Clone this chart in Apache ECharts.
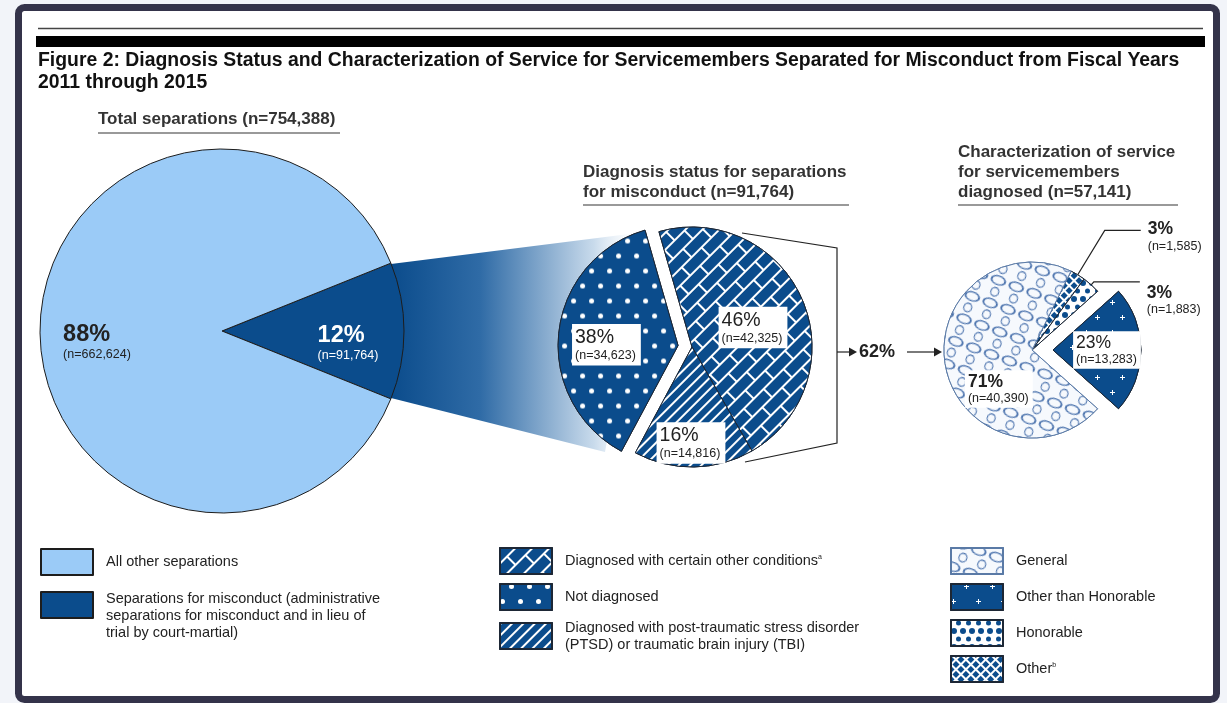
<!DOCTYPE html>
<html lang="en">
<head>
<meta charset="UTF-8">
<title>Figure 2</title>
<script src="https://cdn.jsdelivr.net/npm/echarts@6/dist/echarts.min.js"></script>
<style>
    html, body { margin: 0; padding: 0; background: #f2f4f9; }
</style>
</head>
<body>
<div id="box" style="width:1227px;height:703px;"></div>
<script>
    // data
    var totalNames = ['Separations for misconduct', 'All other separations'];
    var totalValues = [91764, 662624];
    var diagNames = ['Diagnosed with certain other conditions', 'Diagnosed with PTSD or TBI', 'Not diagnosed'];
    var diagValues = [42325, 14816, 34623];
    var serviceNames = ['Other', 'Honorable', 'Other than Honorable', 'General'];
    var serviceValues = [1585, 1883, 13283, 40390];

    var legendText = {
        'Separations for misconduct': 'Separations for misconduct (administrative\nseparations for misconduct and in lieu of\ntrial by court-martial)',
        'Diagnosed with certain other conditions': 'Diagnosed with certain other conditions{sup|a}',
        'Diagnosed with PTSD or TBI': 'Diagnosed with post-traumatic stress disorder\n(PTSD) or traumatic brain injury (TBI)',
        'Other': 'Other{sup|b}'
    };

    var blue = '#0b4c8c';
    var font = '"Liberation Sans", Arial, sans-serif';

    function sum(a) { return a.reduce(function (s, v) { return s + v; }, 0); }
    function fmt(v) { return v.toLocaleString('en-US'); }

    var totalAll = sum(totalValues), diagAll = sum(diagValues), serviceAll = sum(serviceValues);

    // patterns
    var decals = {
        'Not diagnosed': {symbol: 'circle', symbolSize: 1, color: '#fff', backgroundColor: blue,
            dashArrayX: [[5, 13], [0, 9, 5, 4]], dashArrayY: [5, 10]},
        'Diagnosed with certain other conditions': {symbol: 'rect', symbolSize: 1, color: blue, backgroundColor: '#fff',
            dashArrayX: [[26, 2], [12, 2, 14, 0]], dashArrayY: [10, 2], rotation: -Math.PI / 4},
        'Diagnosed with PTSD or TBI': {symbol: 'rect', symbolSize: 1, color: '#fff', backgroundColor: blue,
            dashArrayX: [1, 0], dashArrayY: [2, 6], rotation: -Math.PI / 4},
        'General': {symbol: 'path://M0,10A10,10 0 1,1 20,10A10,10 0 1,1 0,10ZM2.4,10A7.6,7.6 0 1,0 17.6,10A7.6,7.6 0 1,0 2.4,10Z',
            symbolSize: 1, symbolKeepAspect: false, color: '#4a72ad', backgroundColor: '#f6f9fd',
            dashArrayX: [[16, 3], [0, 9.5, 9, 0.5]], dashArrayY: [10, 2], rotation: 0.35},
        'Other than Honorable': {symbol: 'path://M4,0H6V4H10V6H6V10H4V6H0V4H4Z', symbolSize: 1, color: '#fff', backgroundColor: blue,
            dashArrayX: [[5, 20], [0, 12.5, 5, 7.5]], dashArrayY: [5, 10]},
        'Honorable': {symbol: 'circle', symbolSize: 1, color: blue, backgroundColor: '#fff',
            dashArrayX: [[6, 3], [0, 4.5, 4.5, 0]], dashArrayY: [6, 2]},
        'Other': {symbol: 'rect', symbolSize: 1, color: blue, backgroundColor: '#fff',
            dashArrayX: [5, 1.5], dashArrayY: [5, 1.5], rotation: Math.PI / 4}
    };

    function labelText(p) {
        return '{p|' + Math.round(p.percent) + '%}\n{n|(n=' + fmt(p.value) + ')}';
    }
    function rich(size, bold) {
        return {
            p: {fontSize: size, fontWeight: bold ? 'bold' : 'normal', fontFamily: font, align: 'left', lineHeight: size + 2},
            n: {fontSize: 12.5, fontFamily: font, align: 'left', lineHeight: 14}
        };
    }
    function shifts(list) {
        return function (p) {
            var o = list[p.dataIndex] || [0, 0];
            return {dx: o[0], dy: o[1]};
        };
    }
    function legendBase(left, top, gap) {
        return {
            left: left, top: top, padding: 0, orient: 'vertical', icon: 'rect',
            itemWidth: 52, itemHeight: 26, itemGap: gap, selectedMode: false,
            formatter: function (n) { return legendText[n] || n; },
            textStyle: {fontFamily: font, fontSize: 14.5, color: '#222', lineHeight: 17, padding: [0, 0, 0, 8],
                rich: {sup: {fontSize: 7, fontFamily: font, color: '#222', padding: [0, 0, 8, 0]}}}
        };
    }

    var myChart = echarts.init(document.getElementById('box'));

    var legendLeft = legendBase(40, 548, -7.5);
    legendLeft.data = [totalNames[1], {name: totalNames[0], textStyle: {padding: [22, 0, 0, 8]}}];
    var legendMid = legendBase(499, 547, 8);
    legendMid.data = [diagNames[0], diagNames[2], diagNames[1]];
    var legendRight = legendBase(950, 547, 8);
    legendRight.data = [serviceNames[3], serviceNames[2], serviceNames[1], serviceNames[0]];

    var option = {
        animation: false,
        graphic: [
            {type: 'rect', z: 0, shape: {x: 18.5, y: 7.5, width: 1198, height: 692, r: 6},
                style: {fill: '#fff', stroke: '#34334a', lineWidth: 7}},
            {type: 'line', z: 1, shape: {x1: 38, y1: 28.5, x2: 1203, y2: 28.5}, style: {stroke: '#444', lineWidth: 1.5}},
            {type: 'rect', z: 1, shape: {x: 36, y: 36, width: 1169, height: 11}, style: {fill: '#000'}},
            {type: 'text', z: 1, x: 38, y: 50, style: {
                text: 'Figure 2: Diagnosis Status and Characterization of Service for Servicemembers Separated for Misconduct from Fiscal Years\n2011 through 2015',
                font: 'bold 19.4px ' + font, fill: '#111', lineHeight: 22}},

            {type: 'text', z: 1, x: 98, y: 111, style: {text: 'Total separations (n=' + fmt(totalAll) + ')',
                font: 'bold 17px ' + font, fill: '#333'}},
            {type: 'line', z: 1, shape: {x1: 98, y1: 133, x2: 340, y2: 133}, style: {stroke: '#777', lineWidth: 1.5}},
            {type: 'text', z: 1, x: 583, y: 162, style: {text: 'Diagnosis status for separations\nfor misconduct (n=' + fmt(diagAll) + ')',
                font: 'bold 17px ' + font, fill: '#333', lineHeight: 20}},
            {type: 'line', z: 1, shape: {x1: 583, y1: 205, x2: 849, y2: 205}, style: {stroke: '#777', lineWidth: 1.5}},
            {type: 'text', z: 1, x: 958, y: 142, style: {text: 'Characterization of service\nfor servicemembers\ndiagnosed (n=' + fmt(serviceAll) + ')',
                font: 'bold 17px ' + font, fill: '#333', lineHeight: 20}},
            {type: 'line', z: 1, shape: {x1: 958, y1: 205, x2: 1178, y2: 205}, style: {stroke: '#777', lineWidth: 1.5}},

            // fading band from the 12% wedge to the middle pie
            {type: 'polygon', z: 1, shape: {points: [[391, 264], [645, 232], [605, 452], [391, 398]]},
                style: {fill: new echarts.graphic.LinearGradient(0, 0, 1, 0, [
                    {offset: 0, color: blue}, {offset: 0.35, color: '#2f6ba6'},
                    {offset: 0.8, color: '#c9dbec'}, {offset: 1, color: 'rgba(255,255,255,0)'}])}},

            // bracket and arrows to the third pie
            {type: 'polyline', z: 1, shape: {points: [[742, 233], [837, 248], [837, 443], [745, 462]]},
                style: {stroke: '#222', lineWidth: 1.2, fill: null}},
            {type: 'line', z: 1, shape: {x1: 837, y1: 352, x2: 852, y2: 352}, style: {stroke: '#222', lineWidth: 1.2}},
            {type: 'polygon', z: 1, shape: {points: [[849, 347.5], [857, 352], [849, 356.5]]}, style: {fill: '#222'}},
            {type: 'text', z: 1, x: 859, y: 352, style: {
                text: Math.round((diagValues[0] + diagValues[1]) / diagAll * 100) + '%',
                font: 'bold 18px ' + font, fill: '#222', verticalAlign: 'middle'}},
            {type: 'line', z: 1, shape: {x1: 907, y1: 352, x2: 937, y2: 352}, style: {stroke: '#222', lineWidth: 1.2}},
            {type: 'polygon', z: 1, shape: {points: [[934, 347.5], [942, 352], [934, 356.5]]}, style: {fill: '#222'}}
        ],
        legend: [legendLeft, legendMid, legendRight],
        series: [
            {
                name: 'Total separations', type: 'pie', center: [222, 331], radius: 182,
                startAngle: totalValues[0] / totalAll * 180, clockwise: true,
                selectedMode: false, emphasis: {disabled: true},
                itemStyle: {borderColor: '#1d1d1d', borderWidth: 1},
                label: {position: 'inside', formatter: labelText, rich: rich(23.5, true), color: '#222'},
                labelLine: {show: false},
                labelLayout: shifts([[32, 12], [-31, 11]]),
                data: totalNames.map(function (n, i) {
                    return {name: n, value: totalValues[i],
                        itemStyle: {color: i === 0 ? blue : '#9bcbf7'},
                        label: {color: i === 0 ? '#fff' : '#222'}};
                })
            },
            {
                name: 'Diagnosis status', type: 'pie', center: [692, 347], radius: 120,
                startAngle: 106, clockwise: true,
                selectedMode: 'single', selectedOffset: 14, emphasis: {disabled: true},
                itemStyle: {borderColor: '#1d2735', borderWidth: 1},
                label: {position: 'inside', formatter: labelText, rich: rich(19.5, false), color: '#222',
                    backgroundColor: '#fff', padding: [3, 5, 3, 3]},
                labelLine: {show: false},
                labelLayout: shifts([[3, 5], [-2, 33], [-9, 6]]),
                data: diagNames.map(function (n, i) {
                    return {name: n, value: diagValues[i], selected: n === 'Not diagnosed',
                        itemStyle: {color: blue, decal: decals[n]}};
                })
            },
            {
                name: 'Characterization of service', type: 'pie', center: [1032, 350], radius: 88,
                startAngle: (serviceValues[0] + serviceValues[1] + serviceValues[2] / 2) / serviceAll * 360,
                clockwise: true,
                selectedMode: 'single', selectedOffset: 21, emphasis: {disabled: true},
                avoidLabelOverlap: false,
                itemStyle: {borderColor: '#1d2735', borderWidth: 1},
                label: {position: 'inside', formatter: labelText, rich: rich(17.5, false), color: '#222',
                    backgroundColor: '#fff', padding: [2, 4, 2, 3]},
                labelLine: {show: false},
                labelLayout: shifts([[0, 0], [0, 12], [7, 0], [13, 30]]),
                data: serviceNames.map(function (n, i) {
                    var item = {name: n, value: serviceValues[i], selected: n === 'Other than Honorable',
                        itemStyle: {color: n === 'General' ? '#f6f9fd' : blue, decal: decals[n],
                            borderColor: n === 'General' ? '#5a7aa6' : '#1d2735'}};
                    if (i < 2) {
                        item.label = {position: 'outside', alignTo: 'labelLine',
                            backgroundColor: 'transparent', padding: [12, 0, 0, 2], rich: rich(17.5, true)};
                        item.labelLine = {show: true, length: i === 0 ? 52 : 4, length2: i === 0 ? 36 : 46,
                            lineStyle: {color: '#222', width: 1.2}};
                    }
                    if (n === 'General') {
                        item.label = {rich: rich(17.5, true)};
                    }
                    return item;
                })
            }
        ]
    };
    myChart.setOption(option);
</script>
</body>
</html>
